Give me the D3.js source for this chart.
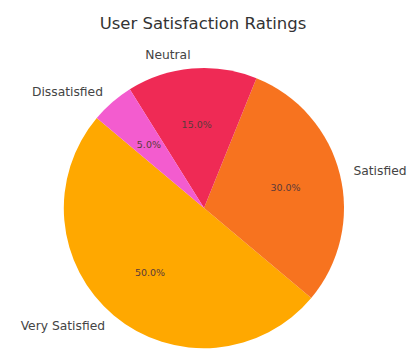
<!DOCTYPE html>
<html>
<head>
<meta charset="utf-8">
<script src="https://cdn.jsdelivr.net/npm/d3@7"></script>
<style>
  body { margin: 0; background: #fff; }
  text { font-family: "DejaVu Sans", sans-serif; }
</style>
</head>
<body>
<svg id="chart" width="410" height="351"></svg>
<script>
// data
var categories = ["Very Satisfied", "Satisfied", "Neutral", "Dissatisfied"];
var shares = [50, 30, 15, 5];
var colors = ["#ffa800", "#f7731f", "#ef2a55", "#f35ccf"];

var width = 410, height = 351;
var cx = 204, cy = 208, radius = 140;
var startDeg = 140; // matplotlib style start angle, counter-clockwise

var svg = d3.select("#chart");

svg.append("text")
    .attr("x", 203)
    .attr("y", 29)
    .attr("text-anchor", "middle")
    .style("font-size", "16.5px")
    .style("fill", "#333")
    .text("User Satisfaction Ratings");

var data = categories.map((c, i) => ({ name: c, value: shares[i], color: colors[i] }));

// d3 angles: 0 at 12 o'clock, clockwise. matplotlib: 0 at 3 o'clock, counter-clockwise.
// run the pie clockwise from the start and mirror it to get the ccw order
var toRad = d => d * Math.PI / 180;
var pie = d3.pie().sort(null).value(d => d.value)
    .startAngle(toRad(90 - startDeg))
    .endAngle(toRad(90 - startDeg) - 2 * Math.PI);

var arc = d3.arc().innerRadius(0).outerRadius(radius);

var g = svg.append("g").attr("transform", "translate(" + cx + "," + cy + ")");

var arcs = pie(data);

g.selectAll("path")
    .data(arcs)
    .enter().append("path")
    .attr("d", arc)
    .attr("fill", d => d.data.color);

function pos(d, k) {
    var a = (d.startAngle + d.endAngle) / 2;
    return [Math.sin(a) * radius * k, -Math.cos(a) * radius * k];
}

g.selectAll("text.lbl")
    .data(arcs)
    .enter().append("text")
    .attr("class", "lbl")
    .attr("x", d => pos(d, 1.1)[0])
    .attr("y", d => pos(d, 1.1)[1])
    .attr("dy", "0.35em")
    .attr("text-anchor", d => pos(d, 1.1)[0] < 0 ? "end" : "start")
    .style("font-size", "12.3px")
    .style("fill", "#444")
    .text(d => d.data.name);

g.selectAll("text.pct")
    .data(arcs)
    .enter().append("text")
    .attr("class", "pct")
    .attr("x", d => pos(d, 0.6)[0])
    .attr("y", d => pos(d, 0.6)[1])
    .attr("dy", "0.35em")
    .attr("text-anchor", "middle")
    .style("font-size", "9.5px")
    .style("fill", "#5a3a3a")
    .text(d => d.data.value.toFixed(1) + "%");
</script>
</body>
</html>
